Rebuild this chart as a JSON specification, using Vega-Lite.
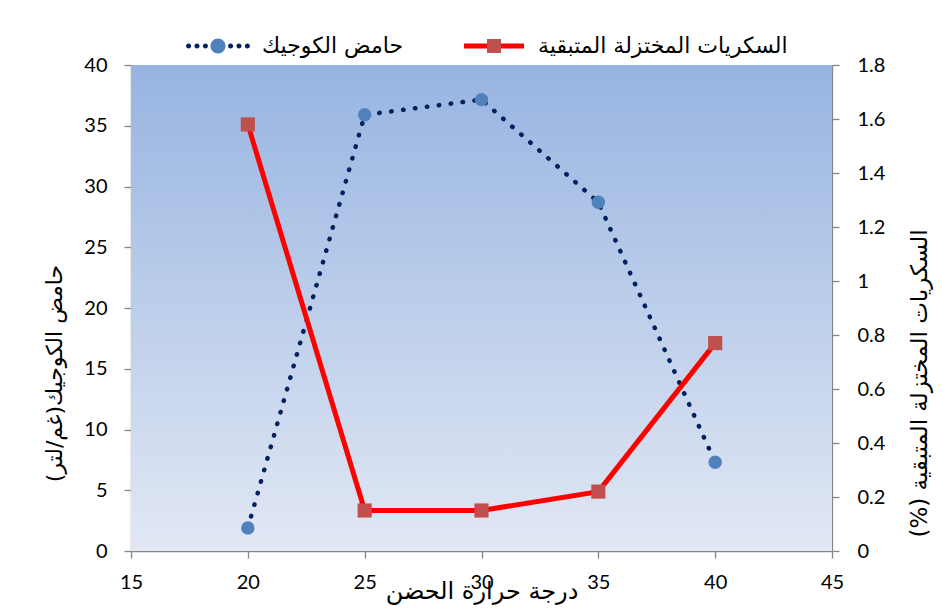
{
  "$schema": "https://vega.github.io/schema/vega-lite/v6.json",
  "autosize": {"type": "none"},
  "width": 701,
  "height": 486,
  "padding": {"left": 131, "top": 65, "right": 113, "bottom": 57},
  "background": "white",
  "config": {
    "view": {"stroke": null},
    "axis": {
      "labelFont": "Lato",
      "labelFontSize": 20,
      "labelColor": "#000000",
      "domainColor": "#868686",
      "domainWidth": 1.3,
      "tickColor": "#868686",
      "tickWidth": 1.3,
      "tickSize": 7,
      "grid": false,
      "labelOverlap": false,
      "titleFont": "DejaVu Sans",
      "titleFontSize": 22,
      "titleFontWeight": "normal",
      "titleColor": "#000000"
    }
  },
  "datasets": {
    "readings": [
      {"temp": 20, "series": "حامض الكوجيك", "value": 1.9},
      {"temp": 25, "series": "حامض الكوجيك", "value": 35.9},
      {"temp": 30, "series": "حامض الكوجيك", "value": 37.15},
      {"temp": 35, "series": "حامض الكوجيك", "value": 28.7},
      {"temp": 40, "series": "حامض الكوجيك", "value": 7.3},
      {"temp": 20, "series": "السكريات المختزلة المتبقية", "value": 1.58},
      {"temp": 25, "series": "السكريات المختزلة المتبقية", "value": 0.15},
      {"temp": 30, "series": "السكريات المختزلة المتبقية", "value": 0.15},
      {"temp": 35, "series": "السكريات المختزلة المتبقية", "value": 0.22},
      {"temp": 40, "series": "السكريات المختزلة المتبقية", "value": 0.77}
    ]
  },
  "data": {"name": "readings"},
  "layer": [
    {
      "layer": [
        {
          "data": {"values": [{}]},
          "mark": {
            "type": "rect",
            "color": {
              "gradient": "linear",
              "x1": 0, "y1": 0, "x2": 0, "y2": 1,
              "stops": [
                {"offset": 0, "color": "#97B4E1"},
                {"offset": 1, "color": "#E2E8F4"}
              ]
            }
          },
          "encoding": {
            "x": {"datum": 15, "type": "quantitative", "scale": {"domain": [15, 45], "nice": false}},
            "x2": {"datum": 45},
            "y": {"datum": 0, "type": "quantitative", "scale": {"domain": [0, 40], "nice": false}},
            "y2": {"datum": 40}
          }
        },
        {
          "transform": [{"filter": {"field": "series", "equal": "حامض الكوجيك"}}],
          "mark": {"type": "line", "strokeWidth": 4.5, "strokeDash": [0.5, 11.5], "strokeCap": "round"},
          "encoding": {
            "x": {
              "field": "temp", "type": "quantitative",
              "scale": {"domain": [15, 45], "nice": false},
              "axis": {
                "values": [15, 20, 25, 30, 35, 40, 45],
                "labelPadding": 14,
                "labelFlush": false,
                "title": "درجة حرارة الحضن",
                "titleFontSize": 24,
                "titleY": 28,
                "titleBaseline": "top"
              }
            },
            "y": {
              "field": "value", "type": "quantitative",
              "scale": {"domain": [0, 40], "nice": false},
              "axis": {
                "orient": "left",
                "values": [0, 5, 10, 15, 20, 25, 30, 35, 40],
                "labelPadding": 17,
                "title": "‏حامض الكوجيك(غم/لتر)‏",
                "titleAngle": 270,
                "titleX": -77,
                "titleY": 308,
                "titleAlign": "center",
                "titleBaseline": "middle"
              }
            },
            "color": {
              "field": "series", "type": "nominal",
              "scale": {
                "domain": ["حامض الكوجيك", "السكريات المختزلة المتبقية"],
                "range": ["#002060", "#FF0000"]
              },
              "legend": {
                "orient": "none",
                "legendX": 57,
                "legendY": -49,
                "direction": "horizontal",
                "title": null,
                "padding": 0,
                "symbolSize": 3600,
                "labelFont": "DejaVu Sans",
                "labelFontSize": 22,
                "labelColor": "#000000",
                "labelOffset": 14,
                "labelLimit": 400,
                "columnPadding": 60,
                "encode": {
                  "symbols": {
                    "update": {
                      "shape": {"signal": "datum.index === 0 ? 'M-1.065,0a0.085,0.085 0 1,0 0.17,0a0.085,0.085 0 1,0 -0.17,0M-0.785,0a0.085,0.085 0 1,0 0.17,0a0.085,0.085 0 1,0 -0.17,0M-0.505,0a0.085,0.085 0 1,0 0.17,0a0.085,0.085 0 1,0 -0.17,0M-0.25,0a0.25,0.25 0 1,0 0.5,0a0.25,0.25 0 1,0 -0.5,0M0.335,0a0.085,0.085 0 1,0 0.17,0a0.085,0.085 0 1,0 -0.17,0M0.615,0a0.085,0.085 0 1,0 0.17,0a0.085,0.085 0 1,0 -0.17,0M0.895,0a0.085,0.085 0 1,0 0.17,0a0.085,0.085 0 1,0 -0.17,0' : 'M-1,-0.083H1V0.083H-1ZM-0.233,-0.233H0.233V0.233H-0.233Z'"},
                      "fill": {"signal": "datum.index === 0 ? {gradient: 'linear', x1: 0, y1: 0, x2: 1, y2: 0, stops: [{offset: 0, color: '#002060'}, {offset: 0.36, color: '#002060'}, {offset: 0.365, color: '#4F81BD'}, {offset: 0.635, color: '#4F81BD'}, {offset: 0.64, color: '#002060'}, {offset: 1, color: '#002060'}]} : {gradient: 'linear', x1: 0, y1: 0, x2: 1, y2: 0, stops: [{offset: 0, color: '#FF0000'}, {offset: 0.38, color: '#FF0000'}, {offset: 0.383, color: '#C0504D'}, {offset: 0.617, color: '#C0504D'}, {offset: 0.62, color: '#FF0000'}, {offset: 1, color: '#FF0000'}]}"},
                      "stroke": {"value": "transparent"},
                      "strokeWidth": {"value": 0},
                      "strokeDash": {"value": []},
                      "opacity": {"value": 1},
                      "size": {"value": 3600}
                    }
                  }
                }
              }
            }
          }
        },
        {
          "transform": [{"filter": {"field": "series", "equal": "حامض الكوجيك"}}],
          "mark": {"type": "point", "shape": "circle", "filled": true, "color": "#4F81BD", "size": 180, "opacity": 1},
          "encoding": {
            "x": {"field": "temp", "type": "quantitative", "scale": {"domain": [15, 45], "nice": false}},
            "y": {"field": "value", "type": "quantitative", "scale": {"domain": [0, 40], "nice": false}}
          }
        }
      ]
    },
    {
      "layer": [
        {
          "transform": [{"filter": {"field": "series", "equal": "السكريات المختزلة المتبقية"}}],
          "mark": {"type": "line", "strokeWidth": 5},
          "encoding": {
            "x": {"field": "temp", "type": "quantitative", "scale": {"domain": [15, 45], "nice": false}},
            "y": {
              "field": "value", "type": "quantitative",
              "scale": {"domain": [0, 1.8], "nice": false},
              "axis": {
                "orient": "right",
                "values": [0, 0.2, 0.4, 0.6, 0.8, 1, 1.2, 1.4, 1.6, 1.8],
                "format": ".1~f",
                "labelPadding": 18,
                "title": "السكريات المختزلة المتبقية (%)‏",
                "titleFontSize": 23,
                "titleAngle": 270,
                "titleX": 87,
                "titleY": 318,
                "titleAlign": "center",
                "titleBaseline": "middle"
              }
            },
            "color": {"field": "series", "type": "nominal"}
          }
        },
        {
          "transform": [{"filter": {"field": "series", "equal": "السكريات المختزلة المتبقية"}}],
          "mark": {"type": "point", "shape": "square", "filled": true, "color": "#C0504D", "size": 200, "opacity": 1},
          "encoding": {
            "x": {"field": "temp", "type": "quantitative", "scale": {"domain": [15, 45], "nice": false}},
            "y": {"field": "value", "type": "quantitative", "scale": {"domain": [0, 1.8], "nice": false}}
          }
        }
      ]
    }
  ],
  "resolve": {"scale": {"y": "independent"}}
}
